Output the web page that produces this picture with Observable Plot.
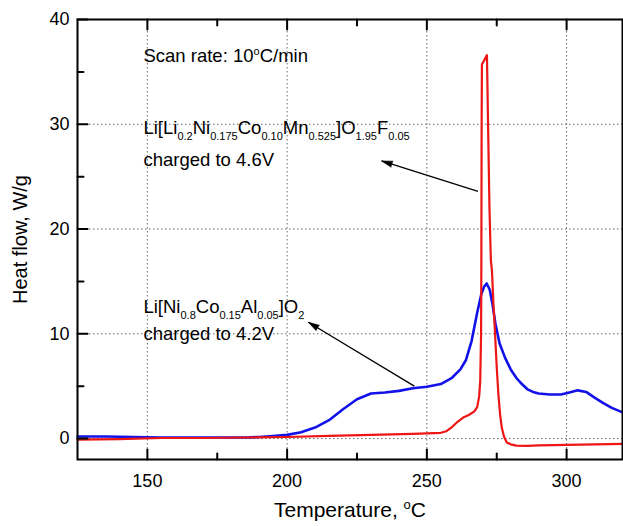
<!DOCTYPE html>
<html><head><meta charset="utf-8">
<script src="https://cdn.jsdelivr.net/npm/d3@7"></script>
<script src="https://cdn.jsdelivr.net/npm/@observablehq/plot@0.6"></script>
<style>body{margin:0;background:#fff;}</style>
</head><body><div id="chart"></div>
<script>
// Li[Ni0.8Co0.15Al0.05]O2 charged to 4.2V (blue)
const blueT = [125,135,145,155,165,175,185,190,195,200,205,210,215,220,225,230,235,240,245,250,255,259,262,264,266,268,269.5,270.5,271.4,272.5,273.5,274.5,276,278,280,282,284,286,288,290,294,298,301,304,307,310,313,316,320];
const blueV = [0.2,0.2,0.15,0.1,0.1,0.1,0.1,0.15,0.25,0.35,0.6,1.05,1.75,2.8,3.75,4.3,4.4,4.55,4.8,4.95,5.2,5.8,6.6,7.5,9.3,12.0,13.8,14.5,14.8,14.2,12.8,11.0,9.1,7.7,6.6,5.8,5.2,4.7,4.45,4.3,4.2,4.2,4.4,4.6,4.45,3.9,3.4,2.95,2.5];
// Li[Li0.2Ni0.175Co0.10Mn0.525]O1.95F0.05 charged to 4.6V (red)
const redT = [125,140,155,170,185,200,215,230,245,255,257,259,261,263,265,267,268,268.7,269.1,269.4,269.5,269.6,269.7,271.5,271.6,271.9,272.4,272.9,273.3,273.8,274.4,275.0,275.6,276.2,276.8,277.6,278.6,280,282,286,290,300,310,320];
const redV = [-0.1,-0.05,0.05,0.05,0.1,0.15,0.25,0.35,0.45,0.55,0.7,1.1,1.6,2.0,2.25,2.6,3.0,4.0,5.5,10,17,30,35.7,36.6,35,30,22,17,16,13,10,6.8,4.2,2.3,1.05,0.2,-0.38,-0.55,-0.68,-0.7,-0.65,-0.6,-0.55,-0.5];

const xMajor = [150,200,250,300];
const xMinor = [175,225,275];
const yMajor = [0,10,20,30,40];
const yMinor = [5,15,25,35];
const xDomain = [125,320];
const yDomain = [-2,40];

const notes = [
  {text: "Scan rate: 10^{o}C/min", x: 148.6, y: 36.5},
  {text: "Li[Li_{0.2}Ni_{0.175}Co_{0.10}Mn_{0.525}]O_{1.95}F_{0.05}", x: 148.6, y: 29.6},
  {text: "charged to 4.6V", x: 148.6, y: 26.6},
  {text: "Li[Ni_{0.8}Co_{0.15}Al_{0.05}]O_{2}", x: 148.6, y: 12.55},
  {text: "charged to 4.2V", x: 148.6, y: 9.95}
];
const arrows = [
  {x1: 268.3, y1: 23.6, x2: 233.8, y2: 26.5},
  {x1: 245.5, y1: 5.0, x2: 207.6, y2: 11.1}
];

const W = 623, H = 526, ML = 77, MR = 1, MT = 19, MB = 67;
const kx = (W - ML - MR) / (xDomain[1] - xDomain[0]);
const ky = (H - MT - MB) / (yDomain[1] - yDomain[0]);
const heads = arrows.map(a => ({x: a.x2, y: a.y2,
  angle: Math.atan2((a.x2 - a.x1) * kx, (a.y2 - a.y1) * ky) * 180 / Math.PI}));

const blue = blueT.map((t, i) => ({t, v: blueV[i]}));
const red = redT.map((t, i) => ({t, v: redV[i]}));

const tickShape = {draw(ctx, l) { ctx.moveTo(0, 0); ctx.lineTo(0, -l); }};
const tk = (data, opts) => Plot.vector(data, {anchor: "start", shape: tickShape, stroke: "black", strokeWidth: 2, ...opts});

const FS = 18, NOTE = 18.5;
const chart = Plot.plot({
  width: W, height: H,
  marginLeft: ML, marginRight: MR, marginTop: MT, marginBottom: MB,
  x: {domain: xDomain},
  y: {domain: yDomain},
  style: {fontFamily: "'Liberation Sans', Arial, sans-serif", fontSize: FS + "px", color: "black", background: "white"},
  marks: [
    Plot.gridX(xMajor, {stroke: "#666", strokeOpacity: 1, strokeDasharray: "1.5,2.5"}),
    Plot.gridY(yMajor.filter(d => d < yDomain[1]), {stroke: "#666", strokeOpacity: 1, strokeDasharray: "1.5,2.5"}),
    Plot.line(blue, {x: "t", y: "v", stroke: "#1212e8", strokeWidth: 2.6}),
    Plot.line(red, {x: "t", y: "v", stroke: "#ee1515", strokeWidth: 2.2}),
    Plot.link(arrows, {x1: "x1", y1: "y1", x2: "x2", y2: "y2", stroke: "black", strokeWidth: 1.3}),
    Plot.vector(heads, {x: "x", y: "y", rotate: "angle", length: 11, r: 3.2, shape: "spike", anchor: "end", fill: "black", stroke: "black", strokeWidth: 0.5}),
    Plot.text(notes, {x: "x", y: "y", text: "text", textAnchor: "start", lineAnchor: "middle", fontSize: NOTE}),
    tk(xMajor, {x: d => d, y: yDomain[0], length: 10, rotate: 0}),
    tk(xMinor, {x: d => d, y: yDomain[0], length: 6, rotate: 0}),
    tk(xMajor, {x: d => d, y: yDomain[1], length: 10, rotate: 180}),
    tk(xMinor, {x: d => d, y: yDomain[1], length: 6, rotate: 180}),
    tk(yMajor, {x: xDomain[0], y: d => d, length: 10, rotate: 90}),
    tk(yMinor, {x: xDomain[0], y: d => d, length: 6, rotate: 90}),
    Plot.frame({stroke: "black", strokeWidth: 2}),
    Plot.axisX({ticks: xMajor, tickSize: 0, tickPadding: 15, label: null, fontSize: FS}),
    Plot.axisY({ticks: yMajor, tickSize: 0, tickPadding: 8, label: null, fontSize: FS}),
    Plot.text(["Temperature, ^{o}C"], {frameAnchor: "bottom", textAnchor: "middle", lineAnchor: "middle", dy: 51, fontSize: 21}),
    Plot.text(["Heat flow, W/g"], {frameAnchor: "left", textAnchor: "middle", lineAnchor: "middle", rotate: -90, dx: -57, fontSize: 20})
  ]
});

function richify(svg) {
  svg.querySelectorAll("text").forEach(t => {
    const s = t.textContent;
    if (!/[_^]\{/.test(s)) return;
    const g = t.closest("[font-size]");
    const base = parseFloat(g ? g.getAttribute("font-size") : FS) || FS;
    const small = Math.round(base * 0.61);
    while (t.firstChild) t.removeChild(t.firstChild);
    const re = /([_^])\{([^}]*)\}|([^_^]+)/g;
    let m, shift = 0;
    while ((m = re.exec(s))) {
      const ts = document.createElementNS("http://www.w3.org/2000/svg", "tspan");
      if (m[3] !== undefined) {
        ts.textContent = m[3];
        ts.setAttribute("font-size", base);
        ts.setAttribute("dy", -shift);
        shift = 0;
      } else {
        const d = m[1] === "_" ? Math.round(base * 0.33) : -Math.round(base * 0.4);
        ts.textContent = m[2];
        ts.setAttribute("font-size", small);
        ts.setAttribute("dy", d - shift);
        shift = d;
      }
      t.appendChild(ts);
    }
  });
}
richify(chart);
document.getElementById("chart").appendChild(chart);
</script>
</body></html>
